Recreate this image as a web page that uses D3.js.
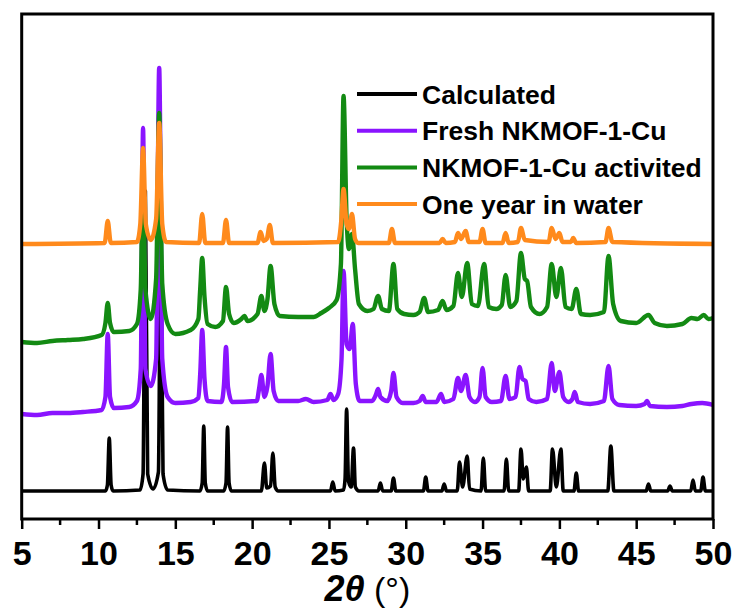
<!DOCTYPE html>
<html>
<head>
<meta charset="utf-8">
<script src="https://cdn.jsdelivr.net/npm/d3@7"></script>
<style>
  body { margin: 0; background: #fff; }
  svg { display: block; font-family: "Liberation Sans", Arial, sans-serif; }
</style>
</head>
<body>
<div id="chart"></div>
<script>
// series names, in legend / drawing order
const seriesNames = ["Calculated", "Fresh NKMOF-1-Cu", "NKMOF-1-Cu activited", "One year in water"];
const seriesColors = ["#000000", "#8a14ff", "#138a13", "#ff8a1c"];

// [2theta, intensity (a.u., offset stacked)]
const calculated = [
  [5,28],[10.45,28],[10.58,34],[10.7,81],[10.82,34],[10.95,28],
  [12.7,29],[12.9,45],[13.05,328],[13.2,45],[13.55,30],[13.9,47],[14.05,295],[14.2,45],[14.5,29],
  [16.6,28],[16.75,36],[16.85,93],[16.95,36],[17.1,28],
  [18.15,28],[18.3,36],[18.4,92],[18.5,36],[18.65,28],
  [20.6,28],[20.8,56],[20.95,31],[21.2,33],[21.35,66],[21.5,32],[21.7,28],
  [25.1,28],[25.25,37],[25.4,28],
  [25.95,29],[26.05,40],[26.15,110],[26.27,38],[26.45,32],[26.6,71],[26.72,32],[26.95,28],
  [28.2,28],[28.35,36],[28.5,28],[29.05,28],[29.2,41],[29.35,28],
  [31.15,28],[31.3,42],[31.45,28],[32.35,28],[32.5,35],[32.65,28],
  [33.35,28],[33.5,57],[33.7,32],[34.0,63],[34.15,30],
  [34.9,28],[35.05,61],[35.2,28],[36.4,28],[36.55,60],[36.7,28],
  [37.35,28],[37.5,70],[37.65,40],[37.85,52],[38.0,28],
  [39.4,28],[39.55,70],[39.8,32],[40.1,70],[40.25,28],
  [40.95,28],[41.1,46],[41.25,28],[43.15,28],[43.35,73],[43.55,28],
  [45.65,28],[45.8,35],[45.95,28],[47.05,28],[47.2,33],[47.35,28],
  [48.55,28],[48.7,39],[48.85,28],[49.2,28],[49.35,42],[49.5,28],[50,28]
];

const fresh = [
  [5,105],[6,104],[7,106],[8,106],[9,107],[10.2,109],[10.45,122],[10.6,185],[10.75,122],[11,111],
  [12,112],[12.5,118],[12.75,150],[12.9,391],[13.05,150],[13.4,133],[13.75,160],[13.95,451],[14.15,160],[14.5,122],[15,116],
  [16,117],[16.5,121],[16.62,145],[16.75,189],[16.9,140],[17.1,118],
  [18.0,117],[18.17,135],[18.3,172],[18.43,132],[18.7,117],
  [20.3,118],[20.45,130],[20.6,144],[20.8,122],[21.0,133],[21.2,165],[21.4,128],[21.7,118],
  [23,118],[23.5,120],[24,117],[24.9,119],[25.1,125],[25.3,119],[25.6,125],[25.82,160],[25.95,248],[26.15,175],[26.35,170],[26.55,195],[26.75,135],[27,118],
  [27.8,118],[28.05,124],[28.2,130],[28.35,122],[28.8,118],[29.05,128],[29.2,146],[29.4,122],[29.8,116],
  [30.5,116],[30.9,118],[31.1,123],[31.3,117],[32.0,117],[32.3,125],[32.5,117],
  [33.1,120],[33.4,141],[33.6,128],[33.9,144],[34.15,122],[34.5,117],
  [34.8,122],[35.0,151],[35.2,122],[35.6,117],[36.2,118],[36.5,143],[36.75,120],
  [37.15,122],[37.4,152],[37.6,140],[37.8,138],[38.0,120],[38.5,117],[39.2,120],[39.5,156],[39.7,128],[40.0,147],[40.25,122],[40.6,117],
  [40.85,120],[41.0,127],[41.2,117],[42,115],[42.9,118],[43.2,153],[43.45,120],[43.9,114],
  [45,113],[45.55,115],[45.7,118],[45.9,113],[47,112],[48,113],[48.6,115],[49.3,116],[50,114]
];

const activated = [
  [5,177],[6,176],[7,178],[8,179],[9,180],[10.2,184],[10.45,196],[10.6,216],[10.75,196],[11,187],
  [12,188],[12.5,195],[12.75,230],[12.9,358],[13.05,230],[13.4,200],[13.75,240],[13.95,406],[14.15,235],[14.5,195],[15,185],
  [16,189],[16.5,200],[16.62,230],[16.75,261],[16.9,222],[17.1,195],[17.6,192],
  [18.1,198],[18.3,232],[18.5,205],[18.8,196],[19.3,200],[19.5,203],[19.7,198],
  [20.35,205],[20.6,223],[20.8,208],[21.0,220],[21.2,253],[21.45,215],[21.8,203],
  [23,202],[24,202],[24.5,206],[25,211],[25.5,219],[25.78,255],[25.95,423],[26.15,300],[26.3,270],[26.5,285],[26.7,250],[26.95,215],[27.5,208],
  [27.9,210],[28.2,223],[28.45,210],[28.9,208],[29.2,255],[29.45,210],[29.9,205],[30.5,204],
  [30.9,207],[31.2,221],[31.45,207],[32.1,209],[32.4,218],[32.65,209],
  [33.1,213],[33.4,246],[33.65,222],[34.0,256],[34.3,215],[34.7,213],[35.1,255],[35.4,212],[35.9,210],
  [36.25,214],[36.5,244],[36.8,212],[37.2,218],[37.5,266],[37.75,240],[37.9,238],[38.15,212],[38.7,205],
  [39.2,212],[39.5,255],[39.8,222],[40.1,251],[40.4,212],[40.8,210],[41.1,230],[41.4,205],[42,204],[42.9,207],[43.2,263],[43.5,215],[44,198],
  [45,196],[45.8,204],[46.2,196],[47,193],[48,195],[48.6,201],[49,200],[49.4,204],[49.7,200],[50,201]
];

const oneYear = [
  [5,275],[10.4,276],[10.6,298],[10.8,276],
  [12.5,277],[12.72,295],[12.9,371],[13.08,295],[13.4,279],[13.75,300],[13.95,396],[14.15,295],[14.4,277],
  [16.55,276],[16.75,305],[16.95,276],[18.1,276],[18.3,299],[18.5,276],
  [20.35,276],[20.55,287],[20.75,278],[20.95,280],[21.15,294],[21.35,276],
  [25.6,277],[25.8,298],[25.95,330],[26.15,295],[26.3,290],[26.5,305],[26.7,280],[26.9,276],
  [28.9,276],[29.1,290],[29.3,276],[32.2,276],[32.4,280],[32.6,276],
  [33.2,277],[33.4,286],[33.6,280],[33.9,288],[34.1,277],
  [34.8,277],[35.0,290],[35.2,276],[36.3,276],[36.5,286],[36.7,276],
  [37.3,277],[37.5,291],[37.75,279],[39.3,277],[39.5,291],[39.75,280],[40.0,286],[40.2,277],
  [40.75,277],[40.9,281],[41.1,276],[43.0,277],[43.2,291],[43.45,277],[50,275]
];

const xTicks = [5, 10, 15, 20, 25, 30, 35, 40, 45, 50];

const width = 737, height = 612;
const plotLeft = 21.7, plotRight = 713, plotTop = 14, plotBottom = 519;

const svg = d3.select("#chart").append("svg")
    .attr("width", width).attr("height", height);

const x = d3.scaleLinear().domain([5, 50]).range([plotLeft, plotRight]);
const y = d3.scaleLinear().domain([0, 505]).range([plotBottom, plotTop]);

// clip so lines stay in the frame
svg.append("clipPath").attr("id", "clip")
    .append("rect").attr("x", plotLeft).attr("y", plotTop)
    .attr("width", plotRight - plotLeft).attr("height", plotBottom - plotTop);

const line = d3.line()
    .x(d => x(d[0])).y(d => y(d[1]))
    .curve(d3.curveMonotoneX);

const allSeries = [calculated, fresh, activated, oneYear];

svg.append("g").attr("clip-path", "url(#clip)")
    .selectAll("path")
    .data(allSeries)
    .enter()
    .append("path")
    .attr("d", line)
    .attr("fill", "none")
    .attr("stroke", (d, i) => seriesColors[i])
    .attr("stroke-width", (d, i) => i == 0 ? 3.6 : 4.4)
    .attr("stroke-linejoin", "round");

// minor ticks (between majors)
const minor = d3.range(7.5, 50, 5);
svg.append("g")
    .selectAll("line")
    .data(minor)
    .enter()
    .append("line")
    .attr("x1", d => x(d)).attr("x2", d => x(d))
    .attr("y1", plotBottom).attr("y2", plotBottom + 6)
    .attr("stroke", "#000").attr("stroke-width", 2.5);

// bottom axis
const xAxis = d3.axisBottom(x).tickValues(xTicks).tickSize(10).tickPadding(12).tickFormat(d3.format("d"));
const gx = svg.append("g").attr("transform", `translate(0,${plotBottom})`).call(xAxis);
gx.select(".domain").remove();
gx.selectAll(".tick line").attr("stroke", "#000").attr("stroke-width", 2.5);
gx.selectAll(".tick text")
    .attr("fill", "#000")
    .style("font-size", "34px")
    .style("font-weight", "bold")
    .style("font-family", "'Liberation Sans', Arial, sans-serif");

// frame
svg.append("rect")
    .attr("x", plotLeft).attr("y", plotTop)
    .attr("width", plotRight - plotLeft).attr("height", plotBottom - plotTop)
    .attr("fill", "none").attr("stroke", "#000").attr("stroke-width", 3);

// axis title
const title = svg.append("text")
    .attr("x", (plotLeft + plotRight) / 2).attr("y", 601)
    .attr("text-anchor", "middle")
    .attr("fill", "#000");
title.append("tspan").text("2θ").style("font-size", "36px").style("font-weight", "bold").style("font-style", "italic");
title.append("tspan").text(" (°)").style("font-size", "34px");

// legend
const legend = svg.append("g").attr("transform", "translate(357,94)");
const rows = legend.selectAll("g")
    .data(seriesNames)
    .enter()
    .append("g")
    .attr("transform", (d, i) => `translate(0,${i * 36.7})`);
rows.append("line")
    .attr("x1", 0).attr("x2", 60).attr("y1", 0).attr("y2", 0)
    .attr("stroke", (d, i) => seriesColors[i]).attr("stroke-width", 4);
rows.append("text")
    .attr("x", 65).attr("y", 9.5)
    .style("font-size", "26.5px").style("font-weight", "bold")
    .attr("fill", "#000")
    .text(d => d);
</script>
</body>
</html>
